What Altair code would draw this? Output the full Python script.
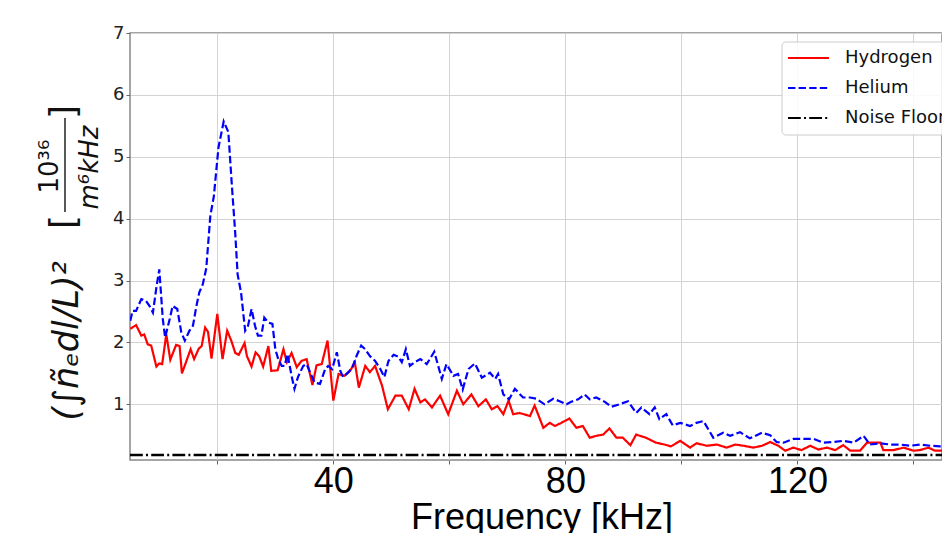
import altair as alt
import pandas as pd

# ---------------- data ----------------
h_freq = [5.0, 6, 6.9, 7.4, 8, 8.6, 9.5, 10, 10.5, 11.2, 11.9, 12.9, 13.5, 13.9, 14.6, 15.4, 16, 16.8, 17.3, 17.9,
          18.4, 19, 20, 20.9, 21.7, 22.4, 23.1, 23.7, 24.7, 25.1, 25.9, 26.6, 27.2, 27.9, 28.8, 29.3, 30.4, 31.4, 32, 32.8,
          33.7, 34.5, 35.4, 36.4, 37.1, 38, 39, 40, 40.9, 41.9, 42.9, 43.7, 44.4, 45.5, 46.3, 47.2, 48.4, 49.4, 50.7, 51.8,
          53, 54, 55,
          55.8, 57, 58.4, 59.8, 61.3, 62.4, 63.8, 65, 66.3, 67.3, 68.3, 69.3, 70.2, 71, 72.1, 73.9, 74.7, 76.2, 77.3, 78.2,
          79.3, 80.7, 81.9, 83, 84.2, 85.3, 86.5, 87.6, 88.8, 89.9, 91.2, 92.2, 93.9, 95.6, 97.1, 98.2,
          99.8, 101.5, 102.6, 104.4, 106.1, 107.8, 109.3, 110.7, 112.4, 113.9, 115.3, 116.7, 117.9, 119.3, 120.7, 122.2,
          123.6, 125.1, 126.5, 127.9, 129.1, 130.8, 132, 133.1, 134.3, 134.8, 136.6, 138.3, 140, 141.1, 142.6, 143.7,
          145.2, 146.3]
h_val = [2.22, 2.28, 2.11, 2.13, 1.97, 1.95, 1.61, 1.66, 1.65, 2.13, 1.72, 1.96, 1.94, 1.50, 1.68, 1.89, 1.73, 1.90, 1.94, 2.24,
         2.17, 1.74, 2.46, 1.73, 2.19, 2.03, 1.83, 1.80, 1.99, 1.78, 1.61, 1.84, 1.78, 1.61, 1.94, 1.54, 1.55, 1.89, 1.68, 1.83,
         1.60, 1.70, 1.73, 1.31, 1.63, 1.65, 2.03, 1.06, 1.49, 1.46, 1.54, 1.68, 1.27, 1.62, 1.52, 1.62, 1.30, 0.92, 1.14, 1.14,
         0.92, 1.25, 1.03,
         1.08, 0.95, 1.14, 0.84, 1.22, 1.00, 1.16, 0.97, 1.08, 0.92, 0.97, 0.84, 1.06, 0.84, 0.86, 0.81, 0.98, 0.62, 0.70, 0.65,
         0.70, 0.77, 0.62, 0.65, 0.46, 0.49, 0.51, 0.61, 0.46, 0.46, 0.34, 0.51, 0.46, 0.38, 0.35, 0.32,
         0.41, 0.30, 0.37, 0.33, 0.35, 0.30, 0.35, 0.33, 0.30, 0.33, 0.39, 0.33, 0.25, 0.30, 0.26, 0.33,
         0.27, 0.30, 0.26, 0.34, 0.25, 0.25, 0.38, 0.38, 0.38, 0.26, 0.26, 0.30, 0.25, 0.26, 0.30, 0.25,
         0.25, 0.23]

he_freq = [5, 5.4, 6, 6.9, 7.7, 8.3, 8.9, 9.5, 10, 10.6, 11, 11.8, 12.3, 13.1, 13.8, 14.4, 15.2, 15.8, 16.4, 16.9,
           17.5, 18.1, 18.8, 19.4, 20.2, 21.1, 21.9, 22.5, 23.1, 23.5, 24.1, 24.8, 25.3, 25.9, 26.5, 27, 27.6, 28.1, 28.8, 29.5,
           30, 30.5, 31.1, 31.6, 32.1, 32.8, 33.3, 33.9, 34.8, 35.4, 36.1, 36.8, 37.7, 38.6, 39.1, 39.8, 40.6, 41.2, 41.7, 42.6,
           43.3, 44, 44.8, 45.5, 46.3, 47.2, 48.1, 48.8, 49.5, 50.4, 51.2, 51.8, 52.5, 53.2, 54,
           55, 56.1, 57.4, 58.7, 59.5, 60.7, 61.5, 62.3, 63.3, 64.4, 65.6, 67, 67.9, 68.4, 69.3, 70.3, 71.3, 72.7, 73.9, 75,
           76.4, 77.9, 79, 80.2, 81, 82.2, 83.3, 84.2, 85.3, 86.8, 87.9, 89.3, 90.8, 92.2, 93.1, 94.5, 95.4, 96.2, 97.4, 98.5,
           99.8, 101.5, 102.6, 103.8, 105.5, 107.2, 108.4, 110.1, 111.8, 113.9, 115.3, 116.4, 117.6, 119.3, 121, 122.8,
           124.5, 126.2, 127.9, 129.7, 131.4, 132.5, 134.3, 136, 137.7, 139.4, 141.1, 142.9, 144.6, 146.3]
he_val = [2.35, 2.51, 2.51, 2.70, 2.67, 2.59, 2.48, 2.89, 3.18, 2.38, 2.08, 2.38, 2.59, 2.54, 2.16, 2.03, 2.19, 2.27, 2.59, 2.81,
          2.94, 3.20, 4.05, 4.36, 5.15, 5.57, 5.40, 4.55, 3.75, 3.10, 2.80, 2.19, 2.27, 2.54, 2.27, 2.11, 2.11, 2.40, 2.32, 2.30,
          1.89, 1.73, 1.62, 1.62, 1.81, 1.46, 1.25, 1.44, 1.62, 1.65, 1.49, 1.35, 1.33, 1.57, 1.62, 1.57, 1.84, 1.54, 1.44, 1.52,
          1.60, 1.78, 1.95, 1.89, 1.78, 1.70, 1.57, 1.44, 1.70, 1.80, 1.77, 1.68, 1.89, 1.62, 1.68,
          1.73, 1.65, 1.85, 1.41, 1.65, 1.46, 1.49, 1.24, 1.57, 1.66, 1.43, 1.51, 1.41, 1.49, 1.16, 1.08, 1.25, 1.11, 1.11, 1.09,
          1.00, 1.09, 1.05, 1.00, 1.04, 1.08, 1.16, 1.08, 1.11, 1.04, 0.96, 1.00, 1.05, 0.86, 0.95, 0.84, 0.95, 0.76, 0.84, 0.66,
          0.70, 0.65, 0.70, 0.73, 0.46, 0.54, 0.49, 0.55, 0.45, 0.54, 0.50, 0.39, 0.38, 0.44, 0.44, 0.44,
          0.38, 0.39, 0.41, 0.38, 0.49, 0.35, 0.37, 0.35, 0.35, 0.33, 0.35, 0.33, 0.32, 0.33]

noise_freq = [4.95, 146.3]
noise_val = [0.18, 0.18]

series_names = ["Hydrogen", "Helium", "Noise Floor"]
series_colors = ["#ff0000", "#0000ff", "#000000"]
series_dash = [[1, 0], [7.4, 3.2], [12.8, 3.2, 2, 3.2]]

x_ticks = [20, 40, 60, 80, 100, 120, 140]
y_ticks = [1, 2, 3, 4, 5, 6, 7]
x_domain = [4.95, 144.92]
y_domain = [0.1, 7]

# ---------------- build ----------------
df = pd.concat([
    pd.DataFrame({"f": h_freq, "v": h_val, "s": "Hydrogen"}),
    pd.DataFrame({"f": he_freq, "v": he_val, "s": "Helium"}),
], ignore_index=True)
noise_df = pd.DataFrame({"f": noise_freq, "v": noise_val, "s": "Noise Floor"})

W, H = 812, 427
xs = alt.Scale(domain=x_domain, nice=False, zero=False)
ys = alt.Scale(domain=y_domain, nice=False, zero=False)
cs = alt.Scale(domain=series_names, range=series_colors)
ds = alt.Scale(domain=series_names, range=series_dash)

x_axis = alt.Axis(values=x_ticks, title=None, grid=True, gridColor="#d3d3d3", gridWidth=1,
                  domain=False, ticks=True, tickColor="#666666", tickSize=4, labelPadding=0,
                  labelFont="Liberation Sans", labelFontSize=36, labelColor="#000000",
                  labelExpr="datum.value % 40 == 0 ? datum.label : ''",
                  labelOverlap=False, labelFlush=False)
y_axis = alt.Axis(values=y_ticks, title=None, grid=True, gridColor="#d3d3d3", gridWidth=1,
                  domain=False, ticks=True, tickColor="#666666", tickSize=4, labelPadding=2,
                  labelFont="DejaVu Sans", labelFontSize=18, labelColor="#222222", format="d",
                  labelOverlap=False, labelFlush=False)

lines = alt.Chart(df).mark_line(strokeWidth=2.2, clip=True).encode(
    x=alt.X("f:Q", scale=xs, axis=x_axis),
    y=alt.Y("v:Q", scale=ys, axis=y_axis),
    color=alt.Color("s:N", scale=cs, legend=None),
    strokeDash=alt.StrokeDash("s:N", scale=ds, legend=None),
)
noise = alt.Chart(noise_df).mark_line(strokeWidth=2.5, clip=True).encode(
    x=alt.X("f:Q", scale=xs),
    y=alt.Y("v:Q", scale=ys),
    color=alt.Color("s:N", scale=cs, legend=None),
    strokeDash=alt.StrokeDash("s:N", scale=ds, legend=None),
)

one = pd.DataFrame({"a": [0]})

# legend (manual, matplotlib-style)
legend_layers = [
    alt.Chart(one).mark_rect(fill="white", fillOpacity=0.85, stroke="#cccccc", strokeWidth=1,
                             cornerRadius=4).encode(
        x=alt.value(652), x2=alt.value(860), y=alt.value(9), y2=alt.value(102))
]
for i, (name, col, dash) in enumerate(zip(series_names, series_colors, series_dash)):
    yy = 25 + 30 * i
    legend_layers.append(
        alt.Chart(one).mark_rule(stroke=col, strokeWidth=2.2, strokeDash=dash).encode(
            x=alt.value(658), x2=alt.value(699), y=alt.value(yy)))
    legend_layers.append(
        alt.Chart(one).mark_text(text=name, font="DejaVu Sans", fontSize=18, color="#111111",
                                 align="left", baseline="middle").encode(
            x=alt.value(715), y=alt.value(yy)))

# axis titles as text
x_title = alt.Chart(one).mark_text(text="Frequency [kHz]", font="Liberation Sans", fontSize=36,
                                   color="#000000", align="center", baseline="alphabetic").encode(
    x=alt.value(412), y=alt.value(496))

yt_main = alt.Chart(one).mark_text(text="(\u222b\u00f1\u2091dl/L)\u00b2", font="DejaVu Sans", fontSize=35,
                                   fontStyle="italic", color="#111111", angle=270, align="center",
                                   baseline="alphabetic").encode(x=alt.value(-52), y=alt.value(308))
yt_lb = alt.Chart(one).mark_text(text="[", font="DejaVu Sans", fontSize=36, color="#111111", angle=270,
                                 align="center", baseline="alphabetic").encode(x=alt.value(-55), y=alt.value(189))
yt_rb = alt.Chart(one).mark_text(text="]", font="DejaVu Sans", fontSize=36, color="#111111", angle=270,
                                 align="center", baseline="alphabetic").encode(x=alt.value(-55), y=alt.value(79))
yt_num = alt.Chart(one).mark_text(text="10\u00b3\u2076", font="DejaVu Sans", fontSize=26, color="#111111",
                                  angle=270, align="center", baseline="alphabetic").encode(
    x=alt.value(-72), y=alt.value(133.5))
yt_den = alt.Chart(one).mark_text(text="m\u2076kHz", font="DejaVu Sans", fontSize=26, fontStyle="italic",
                                  color="#111111", angle=270, align="center", baseline="alphabetic").encode(
    x=alt.value(-32), y=alt.value(134.5))
yt_bar = alt.Chart(one).mark_rule(stroke="#111111", strokeWidth=1.4).encode(
    x=alt.value(-65), y=alt.value(85), y2=alt.value(179))

chart = alt.layer(
    lines, noise, *legend_layers, x_title, yt_main, yt_lb, yt_rb, yt_num, yt_den, yt_bar
).properties(
    width=W, height=H,
    autosize=alt.AutoSizeParams(type="none"),
    padding={"left": 122, "top": 25, "right": 0, "bottom": 73},
).configure_view(stroke="#888888", strokeWidth=1.5)

chart.save("out.html", embed_options={"renderer": "svg", "actions": False})
